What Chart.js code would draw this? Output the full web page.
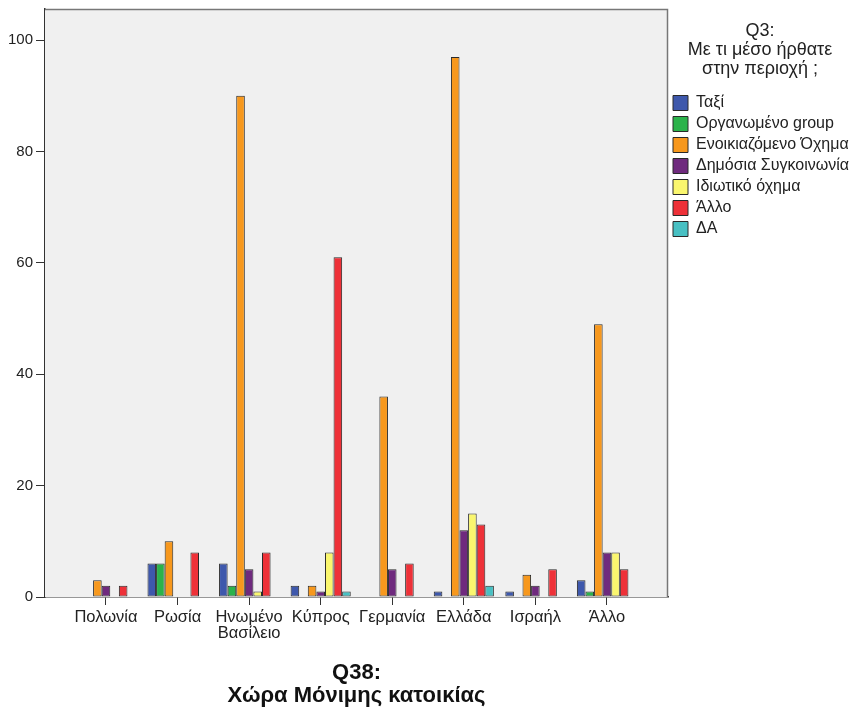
<!DOCTYPE html>
<html><head><meta charset="utf-8">
<script src="https://cdn.jsdelivr.net/npm/chart.js@4.4.1/dist/chart.umd.min.js"></script>
<style>html,body{margin:0;padding:0;background:#fff;}#wrap{width:852px;height:708px;position:relative;}</style>
</head><body><div id="wrap"><canvas id="c"></canvas></div>
<script>
const categories = ['Πολωνία','Ρωσία','Ηνωμένο\nΒασίλειο','Κύπρος','Γερμανία','Ελλάδα','Ισραήλ','Άλλο'];
const seriesNames = ['Ταξί','Οργανωμένο group','Ενοικιαζόμενο Όχημα','Δημόσια Συγκοινωνία','Ιδιωτικό όχημα','Άλλο','ΔΑ'];
const taxi            = [0, 6, 6, 2, 0, 1, 1, 3];
const organisedGroup  = [0, 6, 2, 0, 0, 0, 0, 1];
const rentalVehicle   = [3, 10, 90, 2, 36, 97, 4, 49];
const publicTransport = [2, 0, 5, 1, 5, 12, 2, 8];
const privateCar      = [0, 0, 1, 8, 0, 15, 0, 8];
const otherMeans      = [2, 8, 8, 61, 6, 13, 5, 5];
const noAnswer        = [0, 0, 0, 1, 0, 2, 0, 0];
const yTickValues = [0, 20, 40, 60, 80, 100];
const xAxisTitle = ['Q38:', 'Χώρα Μόνιμης κατοικίας'];
const legendTitle = ['Q3:', 'Με τι μέσο ήρθατε', 'στην περιοχή ;'];

const seriesValues = [taxi, organisedGroup, rentalVehicle, publicTransport, privateCar, otherMeans, noAnswer];
const colors = ['#3E58AC', '#2BB34B', '#F7981D', '#6F2A7E', '#FAF66E', '#EE3138', '#48C0C3'];

Chart.defaults.font.family = '"Liberation Sans", Arial, sans-serif';
Chart.defaults.color = '#222';

const plotFrame = {
  id: 'plotFrame',
  beforeDatasetsDraw(chart) {
    const {ctx, chartArea: a} = chart;
    ctx.save();
    ctx.fillStyle = '#F0F0F0';
    ctx.fillRect(a.left, a.top, a.right - a.left, a.bottom - a.top);
    ctx.strokeStyle = '#777';
    ctx.lineWidth = 1.5;
    ctx.beginPath();
    ctx.moveTo(a.left, a.top + 0.5);
    ctx.lineTo(a.right - 0.5, a.top + 0.5);
    ctx.lineTo(a.right - 0.5, a.bottom);
    ctx.stroke();
    ctx.restore();
  }
};

new Chart(document.getElementById('c'), {
  type: 'bar',
  data: {
    datasets: seriesNames.map((name, k) => ({
      label: name,
      data: seriesValues[k].map((v, i) => ({x: i + 1, y: v})),
      backgroundColor: colors[k],
      borderColor: '#2a2a2a',
      borderWidth: 1,
      borderSkipped: false,
      inflateAmount: 0,
      categoryPercentage: 0.84,
      barPercentage: 1
    }))
  },
  options: {
    responsive: true,
    maintainAspectRatio: false,
    animation: false,
    layout: {padding: {top: 9, right: 0, left: 0, bottom: 0}},
    plugins: {
      tooltip: {enabled: false},
      legend: {
        position: 'right',
        align: 'start',
        maxWidth: 184,
        title: {
          display: true,
          text: legendTitle,
          color: '#222',
          font: {size: 18, lineHeight: 19 / 18},
          padding: {top: 13, bottom: 49}
        },
        labels: {
          boxWidth: 15,
          boxHeight: 15,
          padding: 5,
          color: '#222',
          font: {size: 16}
        }
      }
    },
    scales: {
      x: {
        type: 'linear',
        offset: false,
        min: 0.148,
        max: 8.853,
        afterBuildTicks: s => { s.ticks = categories.map((c, i) => ({value: i + 1})); },
        afterFit: s => { s.height = 111; s.paddingLeft = 0; s.paddingRight = 0; },
        ticks: {
          autoSkip: false,
          maxRotation: 0,
          padding: 4,
          color: '#222',
          font: {size: 16.5, lineHeight: 1},
          callback: v => (categories[v - 1] !== undefined ? categories[v - 1].split('\n') : '')
        },
        grid: {offset: false, drawOnChartArea: false, tickLength: 8, color: '#333'},
        border: {color: '#333', width: 1.5},
        title: {
          display: true,
          text: xAxisTitle,
          color: '#111',
          font: {size: 22, weight: 'bold', lineHeight: 1.02},
          padding: {top: 0, bottom: 1}
        }
      },
      y: {
        min: 0,
        max: 105.6,
        afterBuildTicks: s => { s.ticks = yTickValues.map(v => ({value: v})); },
        afterFit: s => { s.width = 45; s.paddingTop = 0; s.paddingBottom = 0; },
        ticks: {padding: 3, color: '#222', font: {size: 15, lineHeight: 1}},
        grid: {drawOnChartArea: false, tickLength: 9, color: '#333'},
        border: {color: '#333', width: 1.5}
      }
    }
  },
  plugins: [plotFrame]
});
</script>
</body></html>
